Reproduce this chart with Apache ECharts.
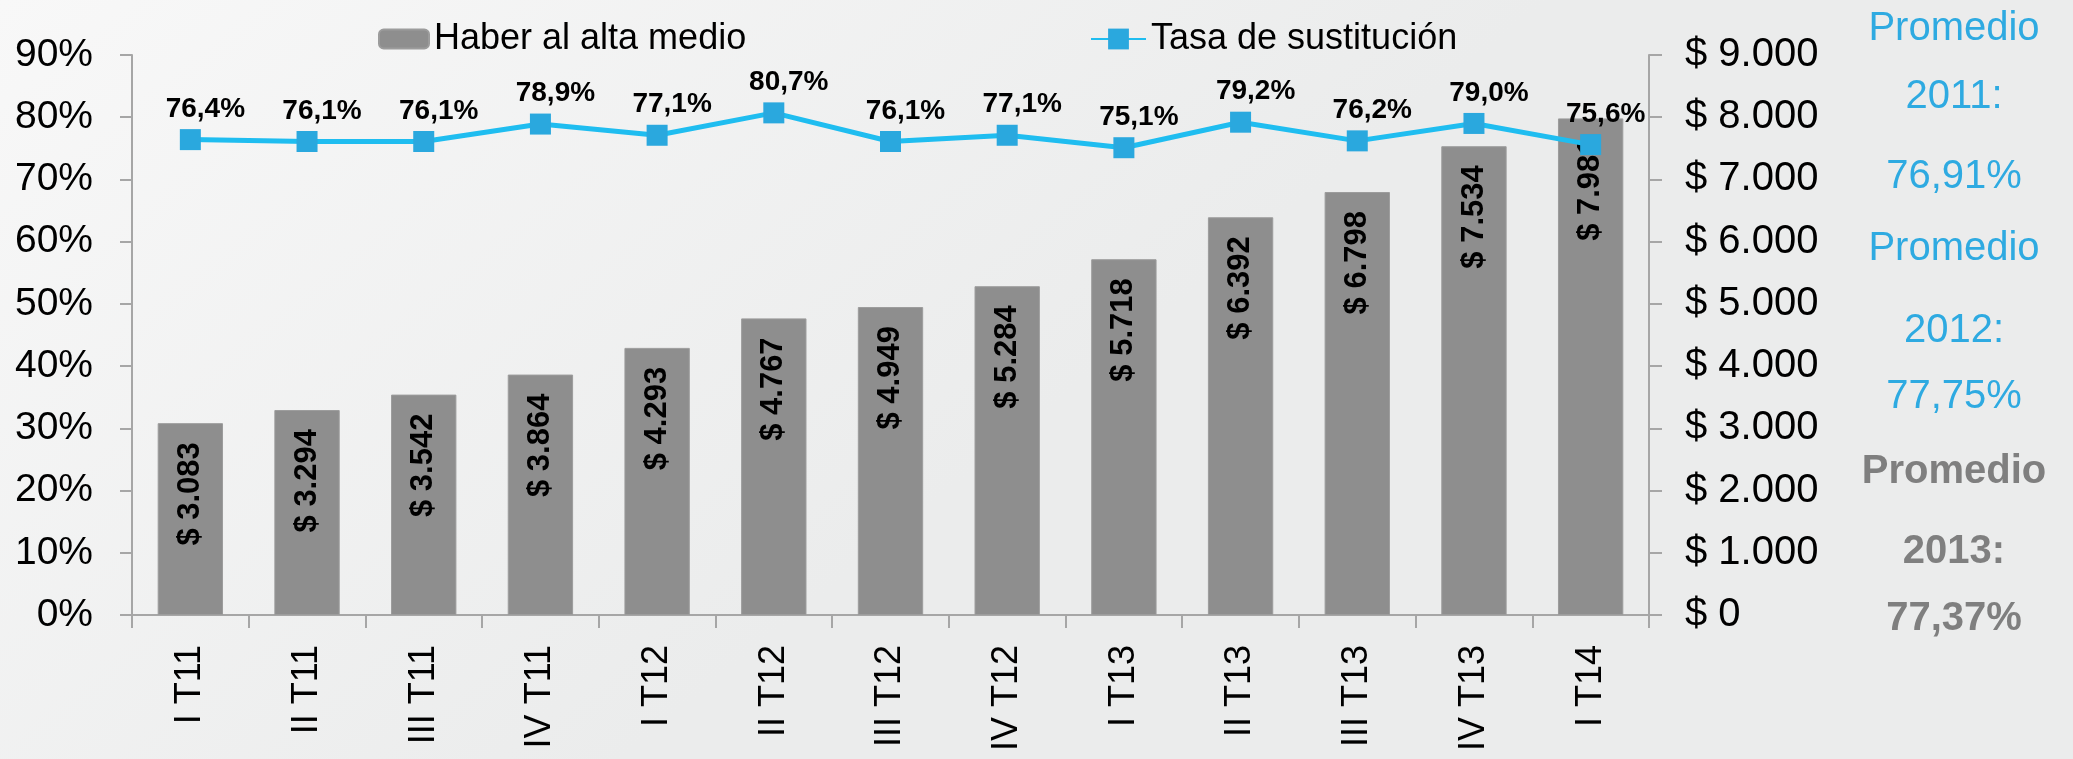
<!DOCTYPE html>
<html><head><meta charset="utf-8">
<script src="https://cdn.jsdelivr.net/npm/echarts@6/dist/echarts.min.js"></script>
<style>html,body{margin:0;padding:0;background:#f3f3f3}#c{width:2073px;height:759px}</style>
</head><body><div id="c"></div>
<script>
const categories = ['I T11','II T11','III T11','IV T11','I T12','II T12','III T12','IV T12','I T13','II T13','III T13','IV T13','I T14'];
const haberValues = [3083,3294,3542,3864,4293,4767,4949,5284,5718,6392,6798,7534,7981];
const tasaValues = [76.4,76.1,76.1,78.9,77.1,80.7,76.1,77.1,75.1,79.2,76.2,79.0,75.6];
const seriesNames = ['Haber al alta medio','Tasa de sustitución'];
const promedioLines = ['Promedio','2011:','76,91%','Promedio','2012:','77,75%','Promedio','2013:','77,37%'];
const promedioStyle = ['blue','blue','blue','blue','blue','blue','gray','gray','gray'];

const FONT = "'Liberation Sans', Arial, sans-serif";
function thousands(v){ return String(v).replace(/\B(?=(\d{3})+(?!\d))/g,'.'); }

const lineY = [29, 97, 177, 249, 331, 397, 472, 552, 619];
const graphics = promedioLines.map((t,i)=>({
  type:'text', x:1954, y:lineY[i], silent:true,
  style:{ text:t, align:'center', verticalAlign:'middle', fontFamily:FONT,
    fontSize:40, fontWeight: promedioStyle[i]==='gray' ? 'bold':'normal',
    fill: promedioStyle[i]==='gray' ? '#7f7f7f' : '#2eaae1' }
}));

const chart = echarts.init(document.getElementById('c'), null, {renderer:'canvas'});
chart.setOption({
  animation:false,
  backgroundColor:{ type:'linear', x:0, y:0, x2:0.3, y2:1,
    colorStops:[{offset:0,color:'#f8f8f8'},{offset:1,color:'#ebecec'}] },
  textStyle:{ fontFamily:FONT },
  legend:[
    { data:[seriesNames[0]], left:373, top:16, itemWidth:50, itemHeight:19, itemGap:10,
      textStyle:{ fontSize:36, color:'#000', fontFamily:FONT } },
    { data:[seriesNames[1]], left:1085, top:16, itemWidth:55, itemHeight:26, itemGap:10,
      textStyle:{ fontSize:36, color:'#000', fontFamily:FONT } }
  ],
  grid:{ left:132, right:424, top:55, bottom:144, containLabel:false },
  xAxis:{ type:'category', data:categories,
    axisLine:{ lineStyle:{ color:'#a6a6a6', width:2 } },
    axisTick:{ show:true, length:13, lineStyle:{ color:'#a6a6a6', width:2 } },
    axisLabel:{ rotate:90, margin:30, fontSize:36, color:'#000', fontFamily:FONT, interval:0 } },
  yAxis:[
    { type:'value', min:0, max:90, interval:10, position:'left',
      axisLine:{ show:true, lineStyle:{ color:'#a6a6a6', width:2 } },
      axisTick:{ show:true, length:12, lineStyle:{ color:'#a6a6a6', width:2 } },
      splitLine:{ show:false },
      axisLabel:{ formatter:v=>v+'%', fontSize:39, color:'#000', margin:39, fontFamily:FONT,
        padding:[7,0,0,0] } },
    { type:'value', min:0, max:9000, interval:1000, position:'right',
      axisLine:{ show:true, lineStyle:{ color:'#a6a6a6', width:2 } },
      axisTick:{ show:true, length:13, lineStyle:{ color:'#a6a6a6', width:2 } },
      splitLine:{ show:false },
      axisLabel:{ formatter:v=>'$ '+thousands(v), fontSize:40, color:'#000', margin:36, fontFamily:FONT,
        padding:[7,0,0,0] } }
  ],
  series:[
    { name:seriesNames[0], type:'bar', yAxisIndex:1, data:haberValues, barCategoryGap:'44%',
      itemStyle:{ color:'#8e8e8e', borderColor:'#9c9c9c', borderWidth:1 },
      label:{ show:true, position:'insideTop', rotate:90, align:'right', verticalAlign:'middle',
        distance:19, fontSize:31, fontWeight:'bold', color:'#000', fontFamily:FONT,
        formatter:p=>'$ '+thousands(p.value) } },
    { name:seriesNames[1], type:'line', yAxisIndex:0, data:tasaValues, z:5,
      symbol:'rect', symbolSize:21,
      lineStyle:{ color:'#1fbdf0', width:5 },
      itemStyle:{ color:'#2aa8de' },
      label:{ show:true, position:'top', distance:6, offset:[15,0], fontSize:28, fontWeight:'bold', color:'#000',
        fontFamily:FONT, formatter:p=>p.value.toFixed(1).replace('.',',')+'%' } }
  ],
  graphic: graphics
});
</script></body></html>
